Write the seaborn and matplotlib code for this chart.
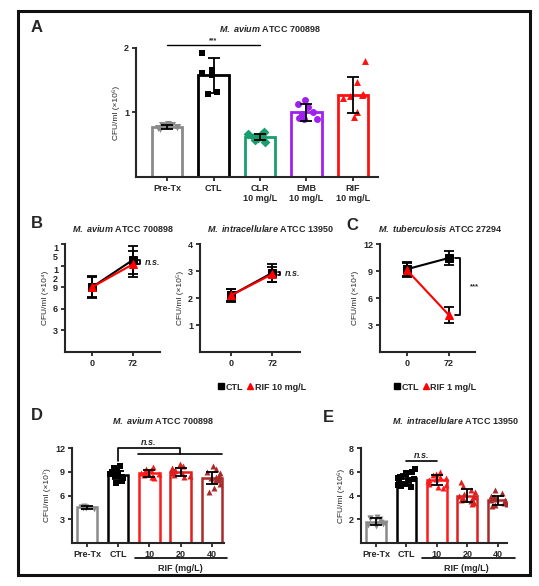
import numpy as np
import seaborn as sns
import matplotlib.pyplot as plt
from matplotlib.lines import Line2D
from matplotlib.patches import Rectangle

W, H = 539, 586

# ---- panel A: M. avium, drug comparison
a_groups = ["Pre-Tx", "CTL", "CLR\n10 mg/L", "EMB\n10 mg/L", "RIF\n10 mg/L"]
a_means = [0.78, 1.58, 0.62, 1.00, 1.27]
a_sd = [0.03, 0.27, 0.05, 0.13, 0.28]
a_pts = [
    [0.82, 0.81, 0.80, 0.79, 0.78, 0.77, 0.76, 0.75],
    [1.92, 1.66, 1.62, 1.58, 1.32, 1.28],
    [0.69, 0.67, 0.66, 0.63, 0.62, 0.60, 0.57, 0.55],
    [1.20, 1.13, 1.08, 1.00, 0.97, 0.92, 0.90, 0.90],
    [1.80, 1.47, 1.29, 1.27, 1.25, 1.22, 1.00, 0.93],
]
a_colors = ["#8a8a8a", "#000000", "#1a9e6e", "#a020f0", "#ff1010"]
a_markers = ["v", "s", "D", "o", "^"]

# ---- panel B/C: time course, CTL vs RIF
b1_ctl = [9.0, 12.8]
b1_ctl_sd = [1.5, 1.9]
b1_rif = [9.0, 12.2]
b1_rif_sd = [1.4, 1.8]

b2_ctl = [2.1, 2.93]
b2_ctl_sd = [0.25, 0.33]
b2_rif = [2.1, 2.88]
b2_rif_sd = [0.22, 0.28]

c_ctl = [9.2, 10.45]
c_ctl_sd = [0.8, 0.75]
c_rif = [9.1, 4.1]
c_rif_sd = [0.8, 0.9]

time_labels = ["0", "72"]

# ---- panel D/E: RIF dose
de_groups = ["Pre-Tx", "CTL", "10", "20", "40"]
de_colors = ["#8a8a8a", "#000000", "#ff1a1a", "#dd1f1f", "#a82a2a"]
de_markers = ["v", "s", "^", "^", "^"]

d_means = [4.5, 8.6, 8.8, 9.0, 8.2]
d_sd = [0.15, 0.5, 0.45, 0.5, 0.75]
d_pts = [
    [4.7, 4.6, 4.6, 4.5, 4.5, 4.4, 4.4, 4.3],
    [9.7, 9.5, 9.3, 9.1, 9.0, 8.9, 8.8, 8.7, 8.6, 8.5, 8.4, 8.2, 8.0, 7.8, 7.6],
    [9.6, 9.4, 9.2, 9.0, 8.9, 8.9, 8.8, 8.7, 8.6, 8.4, 8.3, 8.2],
    [10.0, 9.7, 9.5, 9.3, 9.2, 9.1, 9.0, 8.9, 8.8, 8.6, 8.5, 8.3],
    [9.7, 9.3, 9.0, 8.8, 8.6, 8.3, 8.2, 8.1, 8.0, 7.8, 7.5, 7.0, 6.5],
]

e_means = [1.8, 5.45, 5.3, 4.0, 3.6]
e_sd = [0.3, 0.4, 0.45, 0.55, 0.4]
e_pts = [
    [2.2, 2.1, 2.1, 2.0, 1.8, 1.7, 1.6, 1.6, 1.5, 1.4],
    [6.2, 6.0, 5.9, 5.8, 5.6, 5.6, 5.5, 5.4, 5.3, 5.2, 5.0, 4.9, 4.8, 4.7],
    [6.0, 5.8, 5.7, 5.6, 5.5, 5.4, 5.3, 5.2, 5.0, 4.9, 4.7, 4.6],
    [5.1, 4.8, 4.5, 4.3, 4.1, 4.0, 3.9, 3.8, 3.7, 3.6, 3.5, 3.4, 3.3],
    [4.5, 4.2, 4.0, 3.9, 3.7, 3.6, 3.6, 3.5, 3.4, 3.3, 3.2, 3.1],
]

sns.set_style("ticks")
plt.rcParams["font.family"] = ["Liberation Sans", "DejaVu Sans"]
plt.rcParams["font.weight"] = "bold"
plt.rcParams["mathtext.fontset"] = "custom"
plt.rcParams["mathtext.it"] = "Liberation Sans:italic:bold"
plt.rcParams["mathtext.rm"] = "Liberation Sans:bold"
plt.rcParams["axes.linewidth"] = 1.5

np.random.seed(3)
fig = plt.figure(figsize=(W / 100, H / 100), dpi=100)


def add_ax(l, t, r, b):
    return fig.add_axes([l / W, 1 - b / H, (r - l) / W, (b - t) / H])


def style(ax, ylabel):
    sns.despine(ax=ax)
    ax.tick_params(labelsize=6.5, length=3, width=1.3, pad=2)
    ax.set_ylabel(ylabel, fontsize=6, fontweight="normal", labelpad=3)
    ax.set_xlabel("")


def bar_panel(ax, groups, means, sd, pts, colors, markers, msize, lw, jit):
    sns.barplot(x=groups, y=means, hue=groups, palette=colors, fill=False,
                width=0.65, linewidth=lw, legend=False, errorbar=None,
                order=groups, ax=ax)
    for g, p, c, m in zip(groups, pts, colors, markers):
        sns.stripplot(x=[g] * len(p), y=p, order=groups, color=c, marker=m,
                      size=msize, jitter=jit, linewidth=0, ax=ax, zorder=3)
    ax.errorbar(range(len(groups)), means, yerr=sd, fmt="none", ecolor="black",
                elinewidth=1.3, capsize=4, capthick=1.3, zorder=5)


def line_panel(ax, ctl, ctl_sd, rif, rif_sd):
    x = [0, 1]
    sns.lineplot(x=x, y=ctl, color="black", marker="s", markersize=5.5,
                 markeredgecolor="black", linewidth=1.5, ax=ax)
    ax.errorbar(x, ctl, yerr=ctl_sd, fmt="none", ecolor="black",
                elinewidth=1.3, capsize=3.5, capthick=1.3, zorder=4)
    sns.lineplot(x=x, y=rif, color="#ff0000", marker="^", markersize=6,
                 markeredgecolor="#ff0000", linewidth=1.5, ax=ax, zorder=5)
    ax.errorbar(x, rif, yerr=rif_sd, fmt="none", ecolor="black",
                elinewidth=1.3, capsize=3.5, capthick=1.3, zorder=4)
    ax.set_xticks(x)
    ax.set_xticklabels(time_labels)
    ax.set_xlabel("Time (hpi)", fontsize=6.5, fontweight="bold", labelpad=1)


def bracket(ax, x, y0, y1, w=0.06):
    ax.plot([x - w, x, x, x - w], [y0, y0, y1, y1], color="black", lw=1.3,
            clip_on=False)


# ---------- A
ax = add_ax(136, 48, 378, 177)
bar_panel(ax, a_groups, a_means, a_sd, a_pts, a_colors, a_markers, 5, 2, 0.27)
ax.set_xlim(-0.67, 4.54)
ax.set_ylim(0, 2)
ax.set_yticks([1, 2])
style(ax, "CFU/ml (×10⁶)")
ax.plot([0, 2], [2.05, 2.05], color="black", lw=1, clip_on=False)
ax.text(1, 2.06, "***", ha="center", va="bottom", fontsize=5)
fig.text(270 / W, 1 - 29 / H, r"$\mathit{M.\ avium}$ ATCC 700898",
         ha="center", va="center", fontsize=6.5)

# ---------- B1
ax = add_ax(65, 244, 160, 352)
line_panel(ax, b1_ctl, b1_ctl_sd, b1_rif, b1_rif_sd)
ax.set_xlim(-0.66, 1.66)
ax.set_ylim(0, 15)
ax.set_yticks([3, 6, 9, 12, 15])
ax.set_yticklabels(["3", "6", "9", "1\n2", "1\n5"])
style(ax, "CFU/ml (×10⁴)")
for lab in ax.get_yticklabels():
    if "\n" in lab.get_text():
        lab.set_va("top")
        lab.set_linespacing(1.0)
bracket(ax, 1.18, 12.2, 12.8)
ax.text(1.3, 12.5, "n.s.", style="italic", fontsize=6.5, va="center")
fig.text(123 / W, 1 - 229 / H, r"$\mathit{M.\ avium}$ ATCC 700898",
         ha="center", va="center", fontsize=6.5)

# ---------- B2
ax = add_ax(200, 244, 300, 352)
line_panel(ax, b2_ctl, b2_ctl_sd, b2_rif, b2_rif_sd)
ax.set_xlim(-0.76, 1.68)
ax.set_ylim(0, 4)
ax.set_yticks([1, 2, 3, 4])
style(ax, "CFU/ml (×10⁵)")
bracket(ax, 1.2, 2.85, 2.95)
ax.text(1.32, 2.9, "n.s.", style="italic", fontsize=6.5, va="center")
fig.text(270 / W, 1 - 229 / H, r"$\mathit{M.\ intracellulare}$ ATCC 13950",
         ha="center", va="center", fontsize=6.5)

# ---------- C
ax = add_ax(380, 244, 475, 352)
line_panel(ax, c_ctl, c_ctl_sd, c_rif, c_rif_sd)
ax.set_xlim(-0.64, 1.62)
ax.set_ylim(0, 12)
ax.set_yticks([3, 6, 9, 12])
style(ax, "CFU/ml (×10⁴)")
bracket(ax, 1.26, 4.1, 10.5, w=0.12)
ax.text(1.5, 7.3, "***", fontsize=5.5, va="center")
fig.text(440 / W, 1 - 229 / H, r"$\mathit{M.\ tuberculosis}$ ATCC 27294",
         ha="center", va="center", fontsize=6.5)

# legends for B and C
sq = Line2D([], [], color="black", marker="s", ls="none", markersize=4.3)
for x, lab in [(262, "RIF 10 mg/L"), (435, "RIF 1 mg/L")]:
    tri = Line2D([], [], color="#ff0000", marker="^", ls="none", markersize=4.6)
    fig.legend([sq, tri], ["CTL", lab], loc="center", ncol=2, frameon=False,
               bbox_to_anchor=(x / W, 1 - 387 / H), handlelength=0.7,
               handletextpad=0.15, columnspacing=0.4,
               prop={"size": 6.5, "weight": "bold"})

# ---------- D
ax = add_ax(72, 448, 224, 543)
bar_panel(ax, de_groups, d_means, d_sd, d_pts, de_colors, de_markers, 4.3, 1.8,
          0.32)
ax.set_xlim(-0.48, 4.39)
ax.set_ylim(0, 12)
ax.set_yticks([3, 6, 9, 12])
style(ax, "CFU/ml (×10⁷)")
ax.plot([1, 1, 2.98, 2.98], [10.3, 12.0, 12.0, 11.3], color="black", lw=1.2,
        clip_on=False)
ax.plot([1.64, 4.33], [11.3, 11.3], color="black", lw=1.2, clip_on=False)
ax.text(1.96, 12.75, "n.s.", style="italic", fontsize=6.5, ha="center",
        va="center")
tr = ax.get_xaxis_transform()
ax.plot([1.54, 4.49], [-0.158, -0.158], color="black", lw=1.2,
        transform=tr, clip_on=False)
ax.text(2.98, -0.27, "RIF (mg/L)", transform=tr, ha="center", va="center",
        fontsize=6.5)
fig.text(163 / W, 1 - 420 / H, r"$\mathit{M.\ avium}$ ATCC 700898",
         ha="center", va="center", fontsize=6.5)

# ---------- E
ax = add_ax(361, 448, 507, 543)
bar_panel(ax, de_groups, e_means, e_sd, e_pts, de_colors, de_markers, 4.3, 1.8,
          0.32)
ax.set_xlim(-0.49, 4.3)
ax.set_ylim(0, 8)
ax.set_yticks([2, 4, 6, 8])
style(ax, "CFU/ml (×10⁶)")
ax.plot([1, 2], [6.9, 6.9], color="black", lw=1.2, clip_on=False)
ax.text(1.5, 7.4, "n.s.", style="italic", fontsize=6.5, ha="center",
        va="center")
tr = ax.get_xaxis_transform()
ax.plot([1.5, 4.56], [-0.158, -0.158], color="black", lw=1.2,
        transform=tr, clip_on=False)
ax.text(2.98, -0.27, "RIF (mg/L)", transform=tr, ha="center", va="center",
        fontsize=6.5)
fig.text(455 / W, 1 - 420 / H, r"$\mathit{M.\ intracellulare}$ ATCC 13950",
         ha="center", va="center", fontsize=6.5)

# panel letters
for lab, x, y in [("A", 37, 27), ("B", 37, 224), ("C", 352, 225),
                  ("D", 37, 416), ("E", 328, 417)]:
    fig.text(x / W, 1 - y / H, lab, fontsize=12, fontweight="bold",
             ha="center", va="center")

# outer frame
fig.add_artist(Rectangle((18 / W, 1 - 575 / H), (530 - 18) / W, (575 - 11) / H,
                         transform=fig.transFigure, fill=False,
                         edgecolor="#111111", lw=2.2))

fig.savefig("out.png", dpi=100)
